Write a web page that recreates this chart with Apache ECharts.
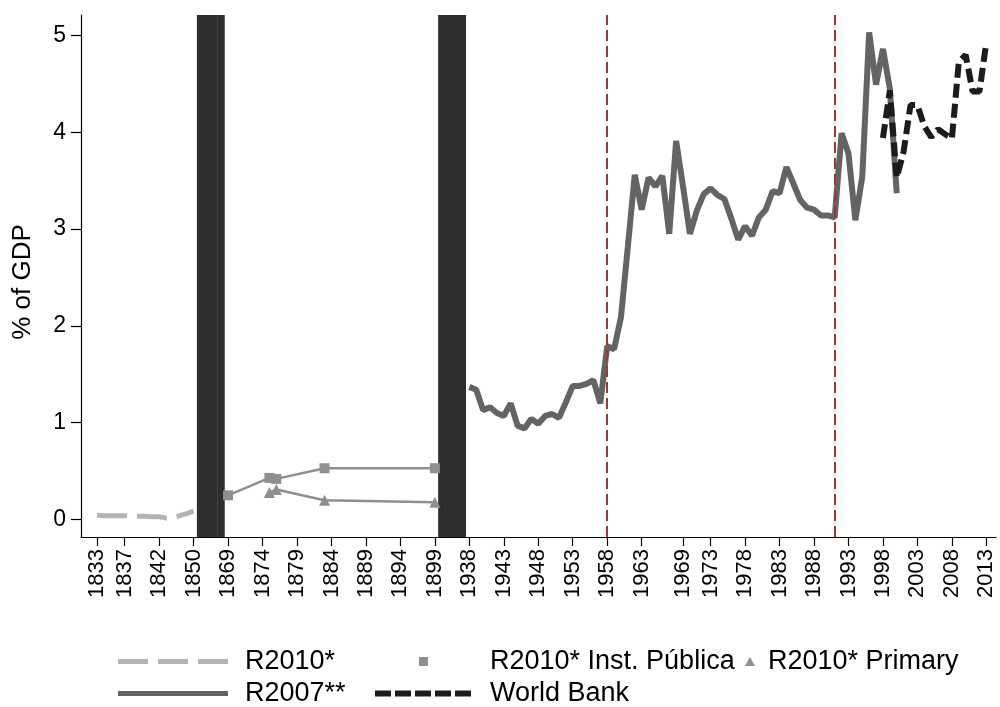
<!DOCTYPE html>
<html><head><meta charset="utf-8">
<script src="https://cdn.jsdelivr.net/npm/echarts@6/dist/echarts.min.js"></script>
<style>html,body{margin:0;padding:0;background:#fff}#c{width:1000px;height:707px}</style>
</head><body><div id="c"></div>
<script>
// Observation order along the x axis (the axis is an observation sequence, not linear time)
const obsYears = [
  1833,1834,1835,1836,1837,1838,1839,1840,1841,1842,1843,1844,1845,1846,1850,
  1851,1856,1861,1866,
  1869,1870,1871,1872,1873,1874,1875,1876,1877,1878,1879,1880,1881,1882,1883,1884,
  1885,1886,1887,1888,1889,1890,1891,1892,1893,1894,1895,1896,1897,1898,1899,
  1900,1910,1920,1930,
  1938,1939,1940,1941,1942,1943,1944,1945,1946,1947,1948,1949,1950,1951,1952,1953,
  1954,1955,1956,1957,1958,1959,1960,1961,1962,1963,1964,1965,1966,1967,1968,1969,
  1970,1971,1972,1973,1974,1975,1976,1977,1978,1979,1980,1981,1982,1983,1984,1985,
  1986,1987,1988,1989,1990,1991,1992,1993,1994,1995,1996,1997,1998,1999,2000,2001,
  2002,2003,2004,2005,2006,2007,2008,2009,2010,2011,2012,2013
];
const tickYears = [1833,1837,1842,1850,1869,1874,1879,1884,1889,1894,1899,1938,1943,1948,1953,
  1958,1963,1969,1973,1978,1983,1988,1993,1998,2003,2008,2013];
const yTicks = [0,1,2,3,4,5];
const warYears = [1851,1856,1861,1866,1900,1910,1920,1930];
const refLineYears = [1958,1991];

const r2010Years  = [1833,1834,1835,1836,1837,1838,1839,1840,1841,1842,1843,1844,1845,1846,1850];
const r2010Values = [0.045,0.04,0.04,0.04,0.04,0.035,0.035,0.035,0.03,0.03,0.015,0.02,0.04,0.062,0.086];

const instYears  = [1869,1875,1876,1883,1899];
const instValues = [0.25,0.43,0.42,0.53,0.53];

const primYears  = [1875,1876,1883,1899];
const primValues = [0.28,0.31,0.20,0.18];

const r2007Years = [1938,1939,1940,1941,1942,1943,1944,1945,1946,1947,1948,1949,1950,1951,1952,1953,
  1954,1955,1956,1957,1958,1959,1960,1961,1962,1963,1964,1965,1966,1967,1968,1969,1970,1971,1972,
  1973,1974,1975,1976,1977,1978,1979,1980,1981,1982,1983,1984,1985,1986,1987,1988,1989,1990,1991,
  1992,1993,1994,1995,1996,1997,1998,1999,2000];
const r2007Values = [1.37,1.34,1.13,1.16,1.10,1.07,1.20,0.97,0.94,1.04,0.99,1.07,1.09,1.05,1.21,1.38,
  1.38,1.40,1.44,1.20,1.79,1.76,2.09,2.82,3.56,3.20,3.53,3.44,3.55,2.95,3.91,3.44,2.95,3.19,3.36,
  3.42,3.35,3.31,3.11,2.89,3.03,2.93,3.12,3.20,3.39,3.37,3.64,3.47,3.30,3.22,3.20,3.14,3.14,3.12,
  3.99,3.78,3.09,3.54,5.03,4.49,4.86,4.45,3.37];

const wbYears  = [1998,1999,2000,2001,2002,2003,2004,2005,2006,2007,2008,2009,2010,2011,2012,2013];
const wbValues = [3.94,4.43,3.53,3.80,4.28,4.28,4.06,3.95,4.03,3.98,3.93,4.72,4.80,4.42,4.42,4.93];

const idx = y => obsYears.indexOf(y);
const pairs = (ys, vs) => ys.map((y, i) => [idx(y), vs[i]]);
const FONT = '"Liberation Sans", Arial, sans-serif';
const LEG_FS = 27;

const chart = echarts.init(document.getElementById('c'), null, {renderer: 'canvas'});
const mkLegend = (o, padLeft) => Object.assign({
  orient: 'horizontal', padding: 0, itemGap: 0, selectedMode: false,
  textStyle: {fontFamily: FONT, fontSize: LEG_FS, color: '#000', padding: [0, 0, 0, padLeft]}
}, o);
chart.setOption({
  animation: false,
  backgroundColor: '#fff',
  textStyle: {fontFamily: FONT},
  grid: {left: 81, right: 4, top: 15, bottom: 170, containLabel: false, outerBoundsMode: 'none'},
  xAxis: {
    type: 'value', min: -2.33, max: 130.4,
    axisLine: {show: true, onZero: false, lineStyle: {color: '#000', width: 1.2}},
    axisTick: {show: true, length: 9, customValues: tickYears.map(idx), lineStyle: {color: '#000', width: 1.2}},
    axisLabel: {customValues: tickYears.map(idx), rotate: 90, margin: 12, fontSize: 22, color: '#000',
      fontFamily: FONT, formatter: v => String(obsYears[Math.round(v)])},
    splitLine: {show: false}
  },
  yAxis: [{
    type: 'value', min: -0.18, max: 5.21,
    name: '% of GDP', nameLocation: 'middle', nameRotate: 90, nameGap: 45,
    nameTextStyle: {fontSize: 26, color: '#000', fontFamily: FONT, padding: [0, 12, 0, 0]},
    axisLine: {show: true, onZero: false, lineStyle: {color: '#000', width: 1.2}},
    axisTick: {show: true, length: 10, customValues: yTicks, lineStyle: {color: '#000', width: 1.2}},
    axisLabel: {customValues: yTicks, margin: 15, fontSize: 23, color: '#000', fontFamily: FONT},
    splitLine: {show: false}
  }, {
    type: 'value', min: 0, max: 1, show: false
  }],
  legend: [
    mkLegend({left: 118, top: 648, itemWidth: 110, itemHeight: 5,
      data: [{name: 'R2010*', icon: 'path://M0,0H30V5H0Z M40,0H70V5H40Z M80,0H110V5H80Z'}]}, 12),
    mkLegend({left: 419, top: 648, itemWidth: 9, itemHeight: 9,
      data: [{name: 'R2010* Inst. Pública', icon: 'rect'}]}, 57),
    mkLegend({left: 745, top: 648, itemWidth: 10, itemHeight: 9,
      data: [{name: 'R2010* Primary', icon: 'triangle'}]}, 8),
    mkLegend({left: 118, top: 680, itemWidth: 110, itemHeight: 5,
      data: [{name: 'R2007**', icon: 'rect'}]}, 12),
    mkLegend({left: 375, top: 680, itemWidth: 96, itemHeight: 6,
      data: [{name: 'World Bank', icon: 'path://M0,0H16V6H0Z M20,0H36V6H20Z M40,0H56V6H40Z M60,0H76V6H60Z M80,0H96V6H80Z'}]}, 14)
  ],
  series: [
    {
      name: 'war', type: 'bar', yAxisIndex: 1, barWidth: 7.2, silent: true, z: 1,
      itemStyle: {color: '#2e2e2e'},
      data: warYears.map(y => [idx(y), 1])
    },
    {
      name: 'refs', type: 'line', data: [], silent: true, z: 2,
      markLine: {symbol: 'none', silent: true, label: {show: false},
        lineStyle: {color: '#a3333d', type: [11, 5], width: 2},
        data: refLineYears.map(y => ({xAxis: idx(y)}))}
    },
    {
      name: 'R2010*', type: 'line', symbol: 'none', z: 3,
      itemStyle: {color: '#b3b3b3'},
      lineStyle: {color: '#b3b3b3', width: 5, type: [30, 10], cap: 'butt'},
      data: pairs(r2010Years, r2010Values)
    },
    {
      name: 'R2010* Inst. Pública', type: 'line', symbol: 'rect', symbolSize: 10, z: 3,
      itemStyle: {color: '#8f8f8f'},
      lineStyle: {color: '#8f8f8f', width: 2.5},
      data: pairs(instYears, instValues)
    },
    {
      name: 'R2010* Primary', type: 'line', symbol: 'triangle', symbolSize: 11, z: 3,
      itemStyle: {color: '#8f8f8f'},
      lineStyle: {color: '#8f8f8f', width: 2.5},
      data: pairs(primYears, primValues)
    },
    {
      name: 'R2007**', type: 'line', symbol: 'none', z: 4,
      itemStyle: {color: '#646464'},
      lineStyle: {color: '#646464', width: 6},
      data: pairs(r2007Years, r2007Values)
    },
    {
      name: 'World Bank', type: 'line', symbol: 'none', z: 5,
      itemStyle: {color: '#1c1c1c'},
      lineStyle: {color: '#1c1c1c', width: 6, type: [14, 6], cap: 'butt'},
      data: pairs(wbYears, wbValues)
    }
  ]
});
</script></body></html>
